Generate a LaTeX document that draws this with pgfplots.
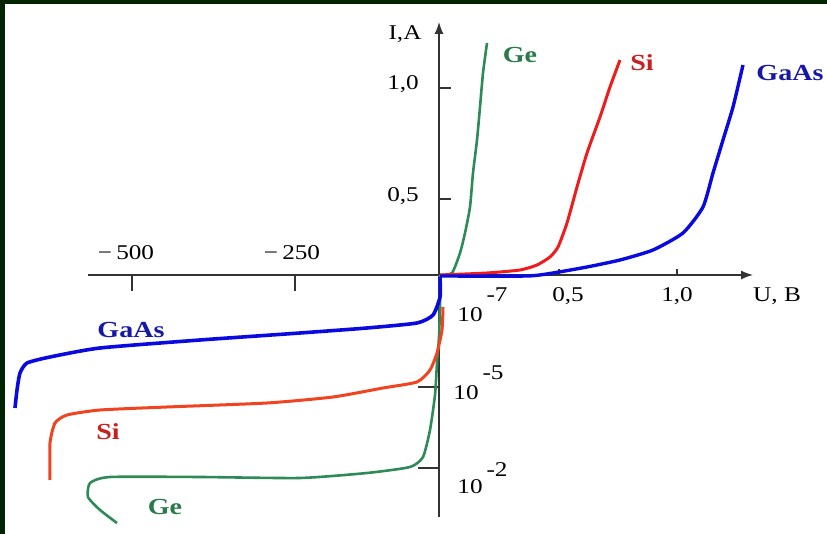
\documentclass[border=0pt]{standalone}
\usepackage{pgfplots}
\pgfplotsset{compat=1.18}
\usepackage{fontspec}
\setmainfont{Liberation Serif}
\usetikzlibrary{arrows.meta}
\definecolor{frame}{HTML}{022402}
\definecolor{geC}{HTML}{2E8B57}
\definecolor{siC}{HTML}{EE1C1C}
\definecolor{siN}{HTML}{F04420}
\definecolor{gaC}{HTML}{0A0AE0}
\definecolor{geT}{HTML}{2A7A4A}
\definecolor{siT}{HTML}{C82020}
\definecolor{gaT}{HTML}{1818A8}
\definecolor{axC}{HTML}{333333}
\tikzset{tl/.style={font=\fontsize{21}{24}\selectfont, text=black, xscale=1.2},
  cl/.style={font=\fontsize{23}{26}\selectfont\bfseries, xscale=1.22}}
\begin{document}
\begin{tikzpicture}
\begin{axis}[scale only axis, width=827pt, height=534pt, anchor=south west, at={(0pt,0pt)},
  xmin=-440, xmax=387, ymin=-259, ymax=275, hide axis, clip=false]
\fill[frame] (axis cs:-440,-259) rectangle (axis cs:387,275);
\fill[white] (axis cs:-435,-259) rectangle (axis cs:387,271);
% axes
\draw[axC, line width=1.3pt, -{Latex[length=12pt,width=9pt]}] (axis cs:-352,0) -- (axis cs:313,0);
\draw[axC, line width=1.3pt, -{Latex[length=12pt,width=9pt]}] (axis cs:-1,-242) -- (axis cs:-1,253);
\draw[axC, line width=1.1pt] (axis cs:-308,0) -- (axis cs:-308,-16);
\draw[axC, line width=1.1pt] (axis cs:-145,0) -- (axis cs:-145,-16);
\draw[axC, line width=1.1pt] (axis cs:119,0) -- (axis cs:119,6);
\draw[axC, line width=1.1pt] (axis cs:237,0) -- (axis cs:237,6);
\draw[axC, line width=1.1pt] (axis cs:-1,187) -- (axis cs:11,187);
\draw[axC, line width=1.1pt] (axis cs:-1,76) -- (axis cs:11,76);
\draw[axC, line width=1.1pt] (axis cs:-22,-112) -- (axis cs:-1,-112);
\draw[axC, line width=1.1pt] (axis cs:-22,-193) -- (axis cs:-1,-193);
% tick labels
\node[tl] at (axis cs:-314,22) {−\,500};
\node[tl] at (axis cs:-148,22) {−\,250};
\node[tl] at (axis cs:128,-21) {0,5};
\node[tl] at (axis cs:237,-21) {1,0};
\node[tl] at (axis cs:337,-21) {U, B};
\node[tl] at (axis cs:-37,191) {1,0};
\node[tl] at (axis cs:-37,79) {0,5};
\node[tl] at (axis cs:-35,241) {I,A};
\node[tl] at (axis cs:30,-40) {10};
\node[tl] at (axis cs:57,-20) {-7};
\node[tl] at (axis cs:26,-118) {10};
\node[tl] at (axis cs:53,-98) {-5};
\node[tl] at (axis cs:30,-212) {10};
\node[tl] at (axis cs:57,-195) {-2};
% curves
\addplot[geC, line width=2.6pt, smooth, tension=0.35] coordinates {
(0,0) (12,2) (20,22) (25,42) (30,68) (33,102) (37,135) (40,168) (43,202) (47,232)};
\addplot[geC, line width=2.6pt, smooth, tension=0.35] coordinates {
(0,0) (0,-30) (-1,-62) (-3,-88) (-5,-120) (-10,-155) (-17,-182) (-30,-192) (-73,-198) (-140,-203) (-240,-202) (-330,-202) (-350,-208) (-352,-222) (-340,-235) (-323,-248)};
\addplot[siN, line width=3pt, smooth, tension=0.35] coordinates {
(3,-32) (2,-55) (-3,-78) (-10,-95) (-23,-107) (-57,-113) (-107,-122) (-173,-128) (-273,-132) (-340,-135) (-373,-140) (-385,-148) (-390,-168) (-390,-205)};
\addplot[siC, line width=3pt, smooth, tension=0.35] coordinates {
(0,0) (47,2) (80,5) (97,10) (110,18) (118,28) (127,52) (137,88) (147,122) (160,158) (170,188) (180,215)};
\addplot[gaC, line width=3.4pt, smooth, tension=0.35] coordinates {
(0,-1) (87,-1) (113,2) (147,8) (180,15) (213,25) (243,42) (263,68) (273,102) (283,135) (293,168) (303,210)};
\addplot[gaC, line width=3.6pt, smooth, tension=0.35] coordinates {
(0,-2) (0,-22) (-7,-40) (-23,-48) (-73,-53) (-140,-58) (-240,-65) (-340,-73) (-390,-82) (-413,-88) (-420,-98) (-423,-115) (-425,-133)};
% curve labels
\node[cl, text=geT] at (axis cs:80,220) {Ge};
\node[cl, text=siT] at (axis cs:202,212) {Si};
\node[cl, text=gaT] at (axis cs:350,202) {GaAs};
\node[cl, text=gaT] at (axis cs:-309,-55) {GaAs};
\node[cl, text=siT] at (axis cs:-332,-157) {Si};
\node[cl, text=geT] at (axis cs:-275,-232) {Ge};
\end{axis}
\pgfresetboundingbox
\useasboundingbox (0pt,0pt) rectangle (827pt,534pt);
\end{tikzpicture}
\end{document}
